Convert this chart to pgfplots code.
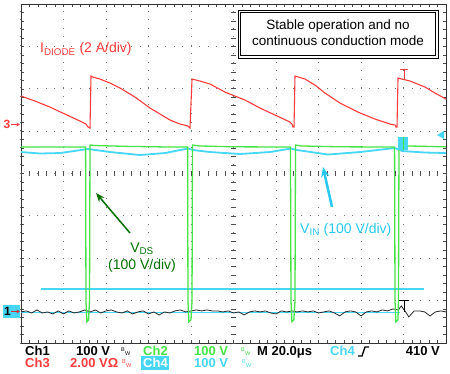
\documentclass[border=0pt]{standalone}
\usepackage{fontspec}
\setmainfont{Liberation Sans}
\usepackage{pgfplots}
\pgfplotsset{compat=1.18}
\usetikzlibrary{arrows.meta}
\definecolor{scred}{RGB}{255,60,60}
\definecolor{scgreen}{RGB}{70,228,70}
\definecolor{sccyan}{RGB}{70,215,245}
\definecolor{dkgreen}{RGB}{0,112,0}
\definecolor{txtcyan}{RGB}{40,200,240}
\newcommand{\bw}[3]{%
  \node[text=#3,font=\fontsize{5.5}{5.5}\selectfont,inner sep=0] at (#1,#2+3) {B};
  \node[text=#3,font=\fontsize{5.5}{5.5}\selectfont,inner sep=0] at (#1+4,#2-1) {W};}
\begin{document}
\begin{tikzpicture}[x=1pt,y=1pt]
\useasboundingbox (0,0) rectangle (450,373);
\fill[white] (0,0) rectangle (450,373);
\begin{axis}[
  at={(21pt,30pt)}, anchor=south west,
  scale only axis, width=425pt, height=339pt,
  xmin=0, xmax=10, ymin=-4, ymax=4,
  xtick={0,...,10}, ytick={-4,...,4},
  xticklabels={}, yticklabels={},
  minor x tick num=4, minor y tick num=4,
  tick align=inside, tick pos=both,
  major tick length=3pt, minor tick length=3pt,
  every tick/.style={black!70, line width=0.5pt},
  grid=major,
  major grid style={black!55, line width=1pt, dash pattern=on 1pt off 7.5pt, dash phase=0.5pt},
  axis line style={black!80, line width=0.9pt},
]
% cursor / reference lines
\addplot[sccyan, line width=1.3pt] coordinates {(0.471,-2.724) (9.482,-2.724)};
\addplot[sccyan, line width=1.1pt] coordinates {(0,-3.275) (8.918,-3.275)};
% Ch4: V_IN
\addplot[sccyan, line width=1.8pt] coordinates {
(0,0.507)(0.447,0.472)(0.918,0.483)(1.576,0.578)(1.671,0.566)(2.094,0.507)(2.8,0.436)
(3.388,0.483)(3.929,0.590)(4.047,0.554)(4.447,0.507)(5.153,0.460)(5.859,0.507)(6.353,0.590)
(6.494,0.554)(7.224,0.448)(7.976,0.507)(8.8,0.601)(8.965,0.531)(9.506,0.495)(10,0.483)};
% Ch1: black noise
\addplot[black!85, line width=0.8pt] coordinates {
(0,-3.267)(0.125,-3.243)(0.25,-3.291)(0.375,-3.220)(0.5,-3.291)(0.625,-3.267)(0.75,-3.314)
(0.875,-3.243)(1.0,-3.314)(1.125,-3.243)(1.25,-3.291)(1.375,-3.267)(1.5,-3.220)(1.625,-3.267)
(1.75,-3.220)(1.875,-3.291)(2.0,-3.243)(2.125,-3.220)(2.25,-3.267)(2.375,-3.291)(2.5,-3.243)
(2.625,-3.314)(2.75,-3.267)(2.875,-3.243)(3.0,-3.314)(3.125,-3.267)(3.25,-3.338)(3.375,-3.267)
(3.5,-3.291)(3.625,-3.243)(3.75,-3.220)(3.875,-3.267)(4.0,-3.243)(4.125,-3.220)(4.25,-3.243)
(4.375,-3.220)(4.5,-3.243)(4.625,-3.243)(4.75,-3.267)(4.875,-3.243)(5.0,-3.291)(5.125,-3.267)
(5.25,-3.338)(5.375,-3.267)(5.5,-3.243)(5.625,-3.267)(5.75,-3.243)(5.875,-3.291)(6.0,-3.314)
(6.125,-3.243)(6.25,-3.267)(6.375,-3.243)(6.5,-3.267)(6.625,-3.243)(6.75,-3.267)(6.875,-3.243)
(7.0,-3.291)(7.125,-3.267)(7.25,-3.243)(7.375,-3.291)(7.5,-3.361)(7.625,-3.267)(7.75,-3.243)
(7.875,-3.267)(8.0,-3.361)(8.125,-3.267)(8.25,-3.243)(8.375,-3.267)(8.5,-3.220)(8.625,-3.243)
(8.75,-3.196)(8.875,-3.220)(8.95,-3.126)(9.05,-3.267)(9.125,-3.385)(9.25,-3.243)(9.375,-3.243)
(9.5,-3.267)(9.625,-3.361)(9.75,-3.267)(9.875,-3.243)(10,-3.267)};
% Ch2: V_DS
\addplot[scgreen, line width=1.3pt] coordinates {
(0,0.625)(1.52,0.625)(1.529,-3.0)(1.55,-3.50)(1.59,-3.45)(1.612,-3.0)(1.624,0.672)(1.75,0.66)
(2.5,0.64)(3.5,0.625)(3.92,0.625)(3.929,-3.0)(3.95,-3.50)(4.0,-3.45)(4.024,-3.0)(4.035,0.672)
(4.2,0.65)(5,0.63)(6.34,0.625)(6.353,-3.0)(6.375,-3.50)(6.42,-3.45)(6.447,-3.0)(6.459,0.672)
(6.6,0.65)(7.5,0.63)(8.79,0.625)(8.8,-3.0)(8.82,-3.50)(8.87,-3.45)(8.882,-3.0)(8.894,0.672)
(9.1,0.65)(10,0.63)};
% Ch3: I_DIODE
\addplot[scred, line width=1.1pt] coordinates {
(0,1.828)(0.329,1.710)(0.682,1.568)(1.082,1.380)(1.388,1.238)(1.529,1.167)(1.576,1.097)
(1.624,1.073)(1.647,2.300)(1.694,2.276)(1.859,2.229)(2.094,2.134)(2.329,2.017)(2.682,1.804)
(3.035,1.545)(3.271,1.403)(3.506,1.262)(3.741,1.167)(3.929,1.120)(3.976,1.073)(4.024,2.229)
(4.212,2.182)(4.447,2.111)(4.8,1.922)(5.271,1.733)(5.624,1.545)(5.976,1.380)(6.329,1.215)
(6.376,1.167)(6.4,1.097)(6.424,1.097)(6.447,2.300)(6.682,2.229)(6.918,2.087)(7.153,1.899)
(7.506,1.663)(7.929,1.450)(8.329,1.285)(8.682,1.167)(8.8,1.144)(8.824,1.097)(8.847,1.097)
(8.871,2.252)(9.153,2.182)(9.506,2.040)(9.741,1.899)(10,1.757)};
\end{axis}
% centre cross ticks
\foreach \i in {0,...,50} {\draw[black!70, line width=0.5pt] (21+\i*8.5,197.3) -- ++(0,4.4);}
\foreach \j in {0,...,40} {\draw[black!70, line width=0.5pt] (231.3,30+\j*8.475) -- ++(4.4,0);}
% trigger markers
\draw[scred, line width=1pt] (400,303) -- (408,303) (404,303) -- (404,293);
\draw[black, line width=1pt] (399,73) -- (409,73) (404,73) -- (404,61);
\fill[sccyan] (398,223) rectangle (408,236);
\draw[scgreen, line width=0.8pt] (403,236) -- (403,223);
\fill[sccyan] (437,238) -- (444,242) -- (444,234) -- cycle;
% left channel markers
\node[text=scred, font=\bfseries\fontsize{12}{12}\selectfont, inner sep=0] at (7,248.5) {3};
\draw[scred, line width=0.9pt, -{Stealth[length=3.5pt,width=3.5pt]}] (11,248.5) -- (20,248.5);
\fill[sccyan] (3,55) rectangle (20,68);
\node[text=black, font=\bfseries\fontsize{12}{12}\selectfont, inner sep=0] at (7.5,61.5) {1};
\draw[scred!80!black, line width=0.9pt, -{Stealth[length=3.5pt,width=3.5pt]}] (11,61.5) -- (20,61.5);
% annotation box
\fill[white] (238,315) rectangle (438,363);
\draw[black, line width=0.6pt] (238,315) rectangle (438,363);
\draw[black, line width=1pt] (240.7,317.7) rectangle (435.3,360.3);
\node[anchor=base, font=\fontsize{13.5}{15}\selectfont, inner sep=0] at (338,343) {Stable operation and no};
\node[anchor=base, font=\fontsize{13.5}{15}\selectfont, inner sep=0] at (338,327) {continuous conduction mode};
% I_DIODE label
\node[anchor=base west, text=scred, font=\fontsize{14}{16}\selectfont, inner sep=0] at (40,320) {I\textsubscript{DIODE} (2 A/div)};
% V_DS label and arrow
\node[anchor=base, text=dkgreen, font=\fontsize{14}{16}\selectfont, inner sep=0] at (142,121) {V\textsubscript{DS}};
\node[anchor=base, text=dkgreen, font=\fontsize{14}{16}\selectfont, inner sep=0] at (142,104) {(100 V/div)};
\draw[dkgreen, line width=1.5pt, -{Stealth[length=9pt,width=7pt]}] (130,140) -- (96,180);
% V_IN label and arrow
\node[anchor=base west, text=txtcyan, font=\fontsize{14}{16}\selectfont, inner sep=0] at (300,140) {V\textsubscript{IN} (100 V/div)};
\draw[txtcyan, line width=2.5pt, -{Stealth[length=10pt,width=8pt]}] (332,166) -- (323,206);
% bottom status lines
\begin{scope}[every node/.style={anchor=base west, inner sep=0, font=\bfseries\fontsize{13}{15}\selectfont}]
\node[text=black] at (25,18) {Ch1};
\node[text=black] at (76,18) {100 V};
\bw{121}{19}{black}
\node[text=scgreen] at (143,18) {Ch2};
\node[text=scgreen] at (194,18) {100 V};
\bw{241}{19}{scgreen}
\node[text=black] at (257,18) {M 20.0μs};
\node[text=sccyan] at (330,18) {Ch4};
\node[text=black, anchor=base east] at (440,18) {410 V};
\node[text=scred] at (25,6) {Ch3};
\node[text=scred] at (70,6) {2.00 VΩ};
\bw{122}{7}{scred}
\fill[sccyan] (141,3.5) rectangle (169,17);
\node[text=white] at (143,6) {Ch4};
\node[text=sccyan] at (194,6) {100 V};
\bw{242}{7}{sccyan}
\end{scope}
\draw[black, line width=1.4pt] (358,17) -- (362,17) -- (365,26) -- (369,26);
\end{tikzpicture}
\end{document}
